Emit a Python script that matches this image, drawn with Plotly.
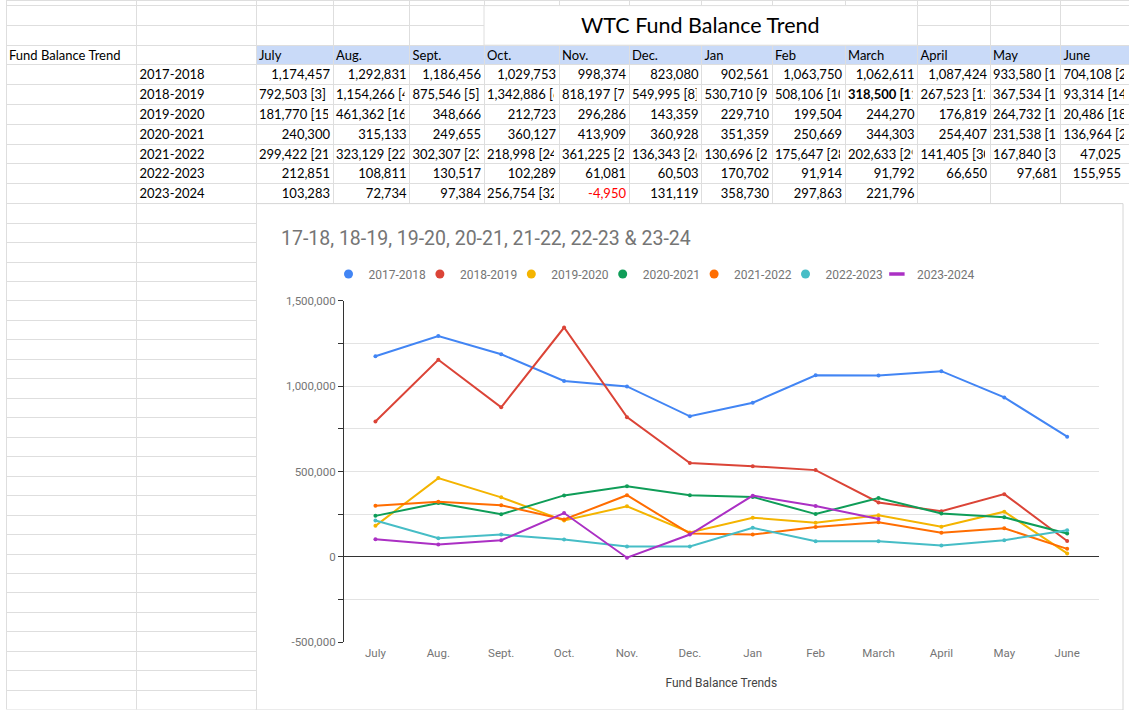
import plotly.graph_objects as go

# ---------------- data ----------------
months = ["July", "Aug.", "Sept.", "Oct.", "Nov.", "Dec.", "Jan", "Feb", "March", "April", "May", "June"]
years = ["2017-2018", "2018-2019", "2019-2020", "2020-2021", "2021-2022", "2022-2023", "2023-2024"]

fy2017_18 = [1174457, 1292831, 1186456, 1029753, 998374, 823080, 902561, 1063750, 1062611, 1087424, 933580, 704108]
fy2018_19 = [792503, 1154266, 875546, 1342886, 818197, 549995, 530710, 508106, 318500, 267523, 367534, 93314]
fy2019_20 = [181770, 461362, 348666, 212723, 296286, 143359, 229710, 199504, 244270, 176819, 264732, 20486]
fy2020_21 = [240300, 315133, 249655, 360127, 413909, 360928, 351359, 250669, 344303, 254407, 231538, 136964]
fy2021_22 = [299422, 323129, 302307, 218998, 361225, 136343, 130696, 175647, 202633, 141405, 167840, 47025]
fy2022_23 = [212851, 108811, 130517, 102289, 61081, 60503, 170702, 91914, 91792, 66650, 97681, 155955]
fy2023_24 = [103283, 72734, 97384, 256754, -4950, 131119, 358730, 297863, 221796, None, None, None]

# footnote markers shown after some table values
notes_2017_18 = ["", "", "", "", "", "", "", "", "", "", "[1]", "[2]"]
notes_2018_19 = ["[3]", "[4]", "[5]", "[6]", "[7]", "[8]", "[9]", "[10]", "[11]", "[12]", "[13]", "[14]"]
notes_2019_20 = ["[15]", "[16]", "", "", "", "", "", "", "", "", "[17]", "[18]"]
notes_2020_21 = ["", "", "", "", "", "", "", "", "", "", "[19]", "[20]"]
notes_2021_22 = ["[21]", "[22]", "[23]", "[24]", "[25]", "[26]", "[27]", "[28]", "[29]", "[30]", "[31]", ""]
notes_2022_23 = [""] * 12
notes_2023_24 = ["", "", "", "[32]", "", "", "", "", "", "", "", ""]

y_tick_vals = [-500000, -250000, 0, 250000, 500000, 750000, 1000000, 1250000, 1500000]
y_tick_text = ["-500,000", "", "0", "", "500,000", "", "1,000,000", "", "1,500,000"]

sheet_label = "Fund Balance Trend"
sheet_title = "WTC Fund Balance Trend"
chart_title = "17-18, 18-19, 19-20, 20-21, 21-22, 22-23 & 23-24"
x_title = "Fund Balance Trends"

series = [fy2017_18, fy2018_19, fy2019_20, fy2020_21, fy2021_22, fy2022_23, fy2023_24]
notes = [notes_2017_18, notes_2018_19, notes_2019_20, notes_2020_21, notes_2021_22, notes_2022_23, notes_2023_24]
colors = ["#4285F4", "#DB4437", "#F4B400", "#0F9D58", "#FF6D01", "#46BDC6", "#AB30C4"]

# ---------------- geometry (pixels) ----------------
W, H = 1129, 710
col_widths = [130.5, 119.5, 77, 76.5, 74.5, 75, 70, 72.5, 70.5, 73, 72.5, 72.5, 70.5, 68.5]
sheet_left = 6
top_row_h = 5.6
row_h = 19.79
top_table_bottom = 203.6
text_lift = 3.3       # table text sits lower than spreadsheet text by this much
pad_fix = 5           # plotly cell padding (8) vs spreadsheet padding (3)
grid_line = "#dedede"

def px_x(v):
    return v / W

def px_y(v):
    return 1 - v / H

def cell_text(v, note):
    if v is None:
        return ""
    s = f"{v:,}"
    return s + "\u00a0" + note if note else s

# ---------------- top table contents ----------------
left_cols, right_cols, right_colors, left_weights = [], [], [], []
left_cols.append([sheet_label.replace(" ", "\u00a0")] + [""] * 7)
left_cols.append([""] + years)
for _ in range(2):
    right_cols.append([""] * 8)
    right_colors.append(["#000000"] * 8)
    left_weights.append(["normal"] * 8)
for j, m in enumerate(months):
    lc, rc, rcol, lw = [m], [""], ["#000000"], ["normal"]
    for i in range(len(years)):
        v = series[i][j]
        nt = notes[i][j]
        txt = cell_text(v, nt)
        if nt:
            lc.append(txt)
            rc.append("")
        else:
            lc.append("")
            rc.append(txt)
        rcol.append("#ff0000" if (v is not None and v < 0) else "#000000")
        lw.append("bold" if (i == 1 and m == "March") else "normal")
    left_cols.append(lc)
    right_cols.append(rc)
    right_colors.append(rcol)
    left_weights.append(lw)

grid_fills = [["white"] * 10, ["white"] * 10] + [["white", "white", "#c9daf8"] + ["white"] * 7] * 12

fig = go.Figure()

# A: spreadsheet grid + fills (no text)
fig.add_trace(go.Table(
    domain=dict(x=[px_x(sheet_left), 1], y=[px_y(top_table_bottom), 1]),
    columnwidth=col_widths,
    header=dict(values=[""] * 14, height=top_row_h, fill_color="white",
                line=dict(color=grid_line, width=1)),
    cells=dict(values=[[""] * 10] * 14, height=row_h,
               fill=dict(color=grid_fills),
               line=dict(color=grid_line, width=1)),
))

text_header_h = top_row_h + 2 * row_h - text_lift
clear = "rgba(0,0,0,0)"

# B1: left-aligned texts
fig.add_trace(go.Table(
    domain=dict(x=[px_x(sheet_left - pad_fix), px_x(W - pad_fix)], y=[px_y(top_table_bottom), 1]),
    columnwidth=col_widths,
    header=dict(values=[""] * 14, height=text_header_h, fill_color=clear, line=dict(color=clear, width=0)),
    cells=dict(values=left_cols, height=row_h, align="left",
               fill=dict(color=clear), line=dict(color=clear, width=0),
               font=dict(family="Lato", size=13, color="#000000")),
))
fig._data[-1]["cells"]["font"]["weight"] = left_weights

# B2: right-aligned numbers
fig.add_trace(go.Table(
    domain=dict(x=[px_x(sheet_left + pad_fix), 1], y=[px_y(top_table_bottom), 1]),
    columnwidth=col_widths[:-1] + [col_widths[-1] - pad_fix],
    header=dict(values=[""] * 14, height=text_header_h, fill_color=clear, line=dict(color=clear, width=0)),
    cells=dict(values=right_cols, height=row_h, align="right",
               fill=dict(color=clear), line=dict(color=clear, width=0),
               font=dict(family="Lato", size=13, color="#000000")),
))
fig._data[-1]["cells"]["font"]["color"] = right_colors

# ---------------- left empty grid ----------------
n_left = 26
left_h = (H - top_table_bottom) / n_left - 0.01
fig.add_trace(go.Table(
    domain=dict(x=[px_x(sheet_left), px_x(sheet_left + col_widths[0] + col_widths[1])],
                y=[0, px_y(top_table_bottom)]),
    columnwidth=col_widths[:2],
    header=dict(values=["", ""], height=left_h, fill_color="white",
                line=dict(color=grid_line, width=1)),
    cells=dict(values=[[""] * (n_left - 1), [""] * (n_left - 1)], height=left_h,
               fill=dict(color="white"), line=dict(color=grid_line, width=1)),
))

# ---------------- chart ----------------
for name, vals, col in zip(years, series, colors):
    fig.add_trace(go.Scatter(
        x=months, y=vals, mode="lines+markers", name=name, showlegend=False,
        line=dict(color=col, width=2), marker=dict(color=col, size=4),
        connectgaps=False, xaxis="x", yaxis="y",
    ))
for name, col in zip(years, colors):
    if name == "2023-2024":
        mk = dict(symbol="line-ew", size=11, color=col, line=dict(color=col, width=3.5))
        lw = 62
    else:
        mk = dict(symbol="circle", size=9, color=col)
        lw = None
    fig.add_trace(go.Scatter(x=[None], y=[None], mode="markers", name=name,
                             marker=mk, showlegend=True, hoverinfo="skip", legendwidth=lw))

fig.update_layout(
    template="none",
    width=W, height=H,
    margin=dict(l=0, r=0, t=0, b=0, pad=0),
    paper_bgcolor="white", plot_bgcolor="white",
    font=dict(family="Roboto", color="#757575"),
    title=dict(text=chart_title, x=px_x(281), xanchor="left", xref="paper",
               y=px_y(238), yanchor="middle", yref="paper",
               font=dict(family="Roboto", size=19.5, color="#757575")),
    xaxis=dict(domain=[px_x(344), px_x(1098.6)], type="category", range=[-0.5, 11.5],
               automargin=False,
               showgrid=False, showline=False, zeroline=False, ticks="",
               ticklabelstandoff=2,
               tickfont=dict(family="Roboto", size=11.5, color="#757575"),
               title=dict(text=x_title, standoff=19,
                          font=dict(family="Roboto", size=12, color="#444444"))),
    yaxis=dict(domain=[px_y(642.3), px_y(300.7)], range=[-500000, 1500000],
               automargin=False,
               tickvals=y_tick_vals, ticktext=y_tick_text,
               showgrid=True, gridcolor="#e3e3e3", gridwidth=1,
               zeroline=True, zerolinecolor="#333333", zerolinewidth=1,
               showline=True, linecolor="#333333", linewidth=1,
               ticks="outside", ticklen=5, tickcolor="#333333",
               tickfont=dict(family="Roboto", size=11.5, color="#757575")),
    legend=dict(orientation="h", x=px_x(328.5), xanchor="left", y=px_y(274), yanchor="middle",
                font=dict(family="Roboto", size=12, color="#757575"),
                entrywidth=46.4, entrywidthmode="pixels", bgcolor="rgba(0,0,0,0)",
                borderwidth=0, traceorder="normal"),
    shapes=[
        dict(type="rect", xref="paper", yref="paper", layer="above",
             x0=px_x(484), x1=px_x(917.5), y0=px_y(45.2), y1=px_y(top_row_h),
             fillcolor="white", line=dict(color=grid_line, width=1)),
        dict(type="rect", xref="paper", yref="paper", layer="below",
             x0=px_x(256), x1=px_x(1123), y0=0, y1=px_y(top_table_bottom),
             fillcolor="rgba(0,0,0,0)", line=dict(color="#d6d6d6", width=1)),
    ],
    annotations=[
        dict(text=sheet_title, xref="paper", yref="paper", x=px_x(700.75), y=px_y(25.4),
             xanchor="center", yanchor="middle", showarrow=False,
             font=dict(family="Lato", size=21.5, color="#000000")),
    ],
)

fig.write_html("out.html", config={"displayModeBar": False},
               post_script="document.body.style.margin='0';")
